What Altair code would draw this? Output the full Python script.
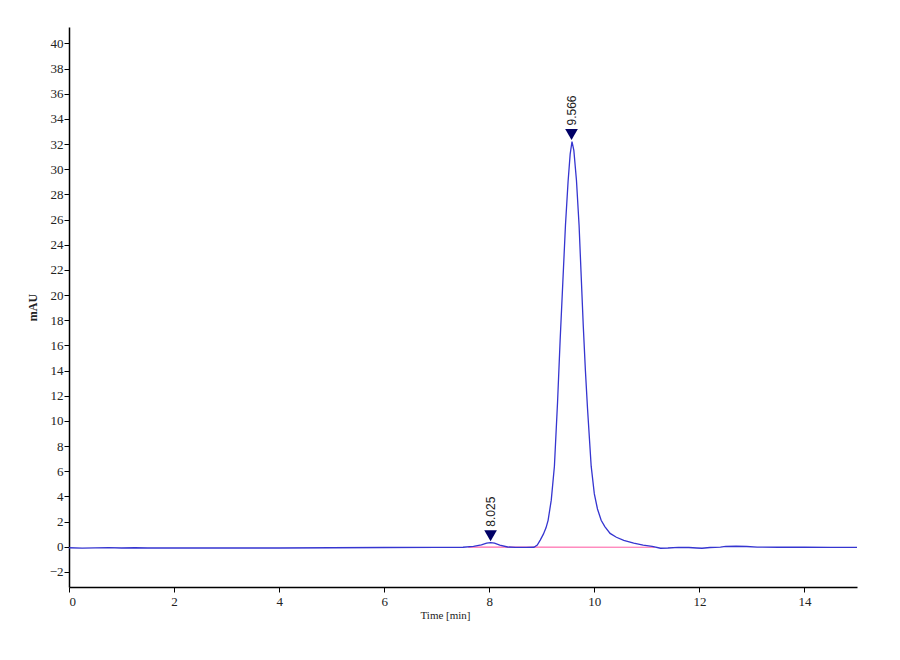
import altair as alt
import pandas as pd

# Chromatogram trace (time in min, signal in mAU)
trace_time = [0.0, 0.25, 0.5, 0.75, 1.0, 1.25, 1.5, 2.0, 3.0, 4.0, 5.0, 6.0, 7.0, 7.5,
              7.7, 7.85, 7.95, 8.025, 8.1, 8.2, 8.35, 8.5, 8.7, 8.85, 8.914, 8.97,
              9.03, 9.08, 9.12, 9.18, 9.24, 9.30, 9.35, 9.40, 9.45, 9.50, 9.54, 9.575,
              9.61, 9.66, 9.71, 9.75, 9.79, 9.83, 9.87, 9.94, 10.0, 10.06, 10.13, 10.2,
              10.3, 10.42, 10.56, 10.75, 10.93, 11.1, 11.26, 11.4, 11.6, 11.8, 11.95,
              12.05, 12.2, 12.4, 12.5, 12.7, 12.9, 13.1, 13.5, 14.0, 14.5, 15.0]
trace_mau = [-0.08, -0.11, -0.09, -0.07, -0.1, -0.08, -0.1, -0.1, -0.1, -0.1, -0.08, -0.06, -0.05, -0.04,
             0.02, 0.15, 0.28, 0.32, 0.28, 0.12, -0.02, -0.05, -0.05, -0.04, 0.13, 0.53,
             1.0, 1.5, 2.1, 3.7, 6.4, 11.5, 16.5, 21.0, 25.5, 29.0, 31.2, 32.2,
             31.5, 29.1, 25.5, 21.5, 17.5, 14.0, 11.0, 6.4, 4.2, 3.0, 2.1, 1.6,
             1.06, 0.75, 0.5, 0.28, 0.13, 0.02, -0.12, -0.1, -0.05, -0.06, -0.1,
             -0.12, -0.06, -0.03, 0.02, 0.04, 0.02, -0.03, -0.04, -0.04, -0.05, -0.05]

# Integration baseline
base_time = [7.6, 11.15]
base_mau = [-0.03, -0.04]

# Peak annotations
peak_time = [8.025, 9.566]
peak_height = [0.32, 32.2]
peak_label = ["8.025", "9.566"]

# Tick values
x_ticks = [0, 2, 4, 6, 8, 10, 12, 14]
y_ticks = [-2, 0, 2, 4, 6, 8, 10, 12, 14, 16, 18, 20, 22, 24, 26, 28, 30, 32, 34, 36, 38, 40]

trace = pd.DataFrame({"t": trace_time, "v": trace_mau})
base = pd.DataFrame({"t": base_time, "v": base_mau})
peaks = pd.DataFrame({"t": peak_time, "v": peak_height, "label": peak_label})

xscale = alt.Scale(domain=[0, 15], nice=False, zero=False)
yscale = alt.Scale(domain=[-3.2, 41.3], nice=False, zero=False)

xaxis = alt.Axis(values=x_ticks, title="Time [min]", grid=False,
                 labelFont="Liberation Serif", labelFontSize=13, labelColor="#222",
                 labelOverlap=False,
                 titleFont="Liberation Serif", titleFontSize=11, titleFontWeight="normal",
                 titleColor="#222", titleX=376, titleY=28, titleAnchor="start",
                 titleAlign="center", titleBaseline="middle",
                 domainColor="black", domainWidth=1.5, tickColor="black", tickSize=5,
                 labelPadding=3)
yaxis = alt.Axis(values=y_ticks, title="mAU", grid=False,
                 labelFont="Liberation Serif", labelFontSize=13, labelColor="#222",
                 labelOverlap=False,
                 titleFont="Liberation Serif", titleFontSize=12, titleFontWeight="bold",
                 titleColor="#222", titlePadding=10,
                 domainColor="black", domainWidth=1.5, tickColor="black", tickSize=5,
                 labelPadding=1)

X = alt.X("t:Q", scale=xscale, axis=xaxis, title="Time [min]")

baseline = alt.Chart(base).mark_line(color="#ff66aa", strokeWidth=1.2).encode(
    x=X,
    y=alt.Y("v:Q", scale=yscale, axis=yaxis, title="mAU"),
)

line = alt.Chart(trace).mark_line(color="#3535d0", strokeWidth=1.3).encode(
    x=X,
    y=alt.Y("v:Q", scale=yscale, axis=yaxis, title="mAU"),
)

arrows = alt.Chart(peaks).transform_calculate(
    ya="datum.v + 0.55"
).mark_point(shape="triangle-down", filled=True, color="#000066", size=160, opacity=1).encode(
    x=X,
    y=alt.Y("ya:Q", scale=yscale, axis=yaxis, title="mAU"),
)

labels = alt.Chart(peaks).mark_text(angle=270, align="left", baseline="middle", dx=16,
                                    font="Liberation Sans", fontSize=12, color="#222").encode(
    x=X,
    y=alt.Y("v:Q", scale=yscale, axis=yaxis, title="mAU"),
    text="label:N",
)

chart = alt.layer(baseline, line, arrows, labels).properties(
    width=788, height=560,
    autosize=alt.AutoSizeParams(type="none"),
    padding={"left": 61, "top": 19, "right": 20, "bottom": 60},
    background="white",
).configure_view(stroke=None).configure_axis(labelOverlap=False)

chart.save("out.html", embed_options={"renderer": "svg", "actions": False})
